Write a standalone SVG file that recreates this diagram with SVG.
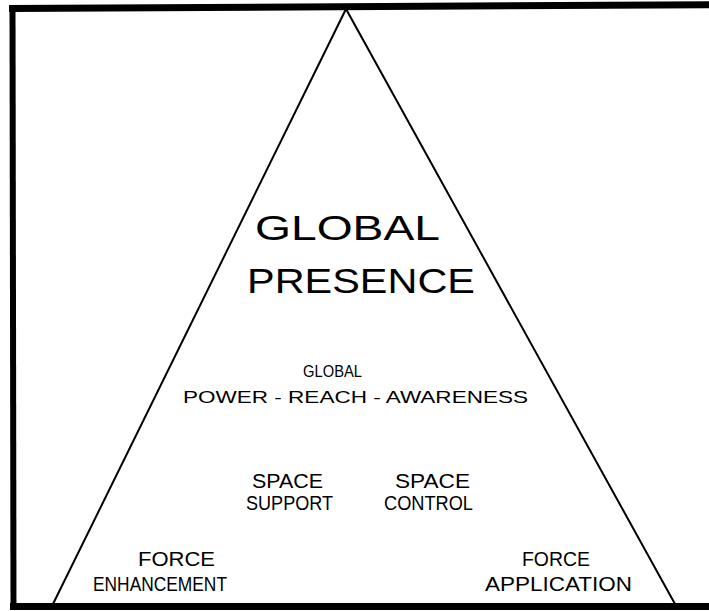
<svg xmlns="http://www.w3.org/2000/svg" width="709" height="611" viewBox="0 0 709 611">
<style>
.frame{stroke:#000;fill:none;stroke-linecap:butt}
.tri{stroke:#000;stroke-width:2;fill:none;stroke-linejoin:miter}
text{font-family:"Liberation Sans","DejaVu Sans",sans-serif;fill:#000}
.big{font-size:35px}
.mid{font-size:17px}
.sm{font-size:20px}
.fc{font-size:21px}
</style>
<rect width="709" height="611" fill="#fff"/>
<g id="frame">
<line class="frame" x1="9" y1="8.5" x2="709" y2="4.8" stroke-width="7"/>
<line class="frame" x1="12.5" y1="5" x2="13.5" y2="610" stroke-width="6"/>
<line class="frame" x1="10" y1="606.5" x2="709" y2="606.5" stroke-width="7"/>
</g>
<g id="connectors">
<polyline class="tri" points="53,604 346,9 675,604"/>
</g>
<g id="global-presence">
<text class="big" x="255" y="240" textLength="185" lengthAdjust="spacingAndGlyphs">GLOBAL</text>
<text class="big" x="247" y="293" textLength="228" lengthAdjust="spacingAndGlyphs">PRESENCE</text>
</g>
<g id="global-power">
<text class="mid" x="303" y="377" textLength="59" lengthAdjust="spacingAndGlyphs">GLOBAL</text>
<text class="mid" x="183" y="403" textLength="345" lengthAdjust="spacingAndGlyphs">POWER - REACH - AWARENESS</text>
</g>
<g id="space-support">
<text class="sm" x="252" y="488" textLength="71" lengthAdjust="spacingAndGlyphs">SPACE</text>
<text class="sm" x="246" y="510" textLength="87" lengthAdjust="spacingAndGlyphs">SUPPORT</text>
</g>
<g id="space-control">
<text class="sm" x="395" y="488" textLength="75" lengthAdjust="spacingAndGlyphs">SPACE</text>
<text class="sm" x="384" y="510" textLength="89" lengthAdjust="spacingAndGlyphs">CONTROL</text>
</g>
<g id="force-enhancement">
<text class="fc" x="138" y="566" textLength="77" lengthAdjust="spacingAndGlyphs">FORCE</text>
<text class="fc" x="93" y="591" textLength="134" lengthAdjust="spacingAndGlyphs">ENHANCEMENT</text>
</g>
<g id="force-application">
<text class="fc" x="522" y="566" textLength="68" lengthAdjust="spacingAndGlyphs">FORCE</text>
<text class="fc" x="485" y="591" textLength="147" lengthAdjust="spacingAndGlyphs">APPLICATION</text>
</g>
</svg>
